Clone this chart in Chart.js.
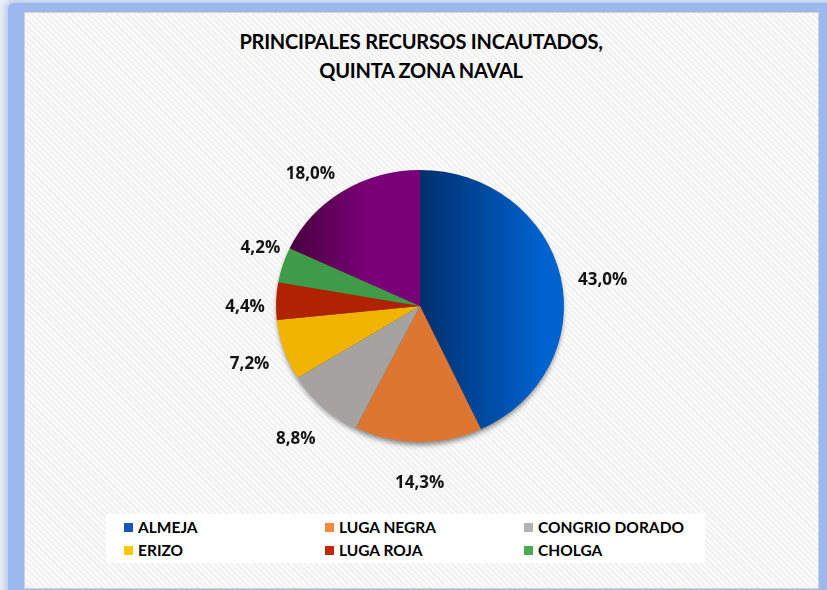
<!DOCTYPE html>
<html>
<head>
<meta charset="utf-8">
<script src="https://cdn.jsdelivr.net/npm/chart.js@4.4.1/dist/chart.umd.min.js"></script>
<style>
  html, body { margin: 0; padding: 0; }
  body { width: 827px; height: 590px; position: relative; overflow: hidden; background: #eceef2; font-family: Lato, "Open Sans", sans-serif; }
  #frame { position: absolute; left: 8px; top: 3px; width: 830px; height: 600px; background: #9bb9ec; border-radius: 6px; box-shadow: 0 0 6px 3px rgba(155, 185, 236, 0.7); }
  #panel { position: absolute; left: 24px; top: 12px; width: 793px; height: 575px; border: 1px solid #d2d2d2;
    background: repeating-linear-gradient(45deg, #fbfbfb 0 2px, #f1f1f1 2px 4px); }
  #title { position: absolute; left: 0; width: 842px; top: 27px; text-align: center; font-weight: bold; font-size: 20px; letter-spacing: -0.25px; line-height: 29px; color: #000; }
  #legend { position: absolute; left: 106px; top: 514px; width: 599px; height: 49px; background: #fff; }
  .item { position: absolute; font-weight: bold; font-size: 15.5px; color: #000; line-height: 18px; white-space: nowrap; }
  .item span { display: inline-block; width: 9px; height: 9px; margin-right: 5px; vertical-align: 1px; }
  canvas { position: absolute; left: 0; top: 0; }
</style>
</head>
<body>
<div id="frame"></div>
<div id="panel"></div>
<div id="title">PRINCIPALES RECURSOS INCAUTADOS,<br>QUINTA ZONA NAVAL</div>
<div id="legend"></div>
<canvas id="chart" width="827" height="590"></canvas>
<script>
Chart.defaults.font.family = "Lato";

const categories = ["ALMEJA", "LUGA NEGRA", "CONGRIO DORADO", "ERIZO", "LUGA ROJA", "CHOLGA", "OTROS"];
const percents = [43.0, 14.3, 8.8, 7.2, 4.4, 4.2, 18.0];
const legendCount = 6; // the last slice has no legend entry in the original

const flatColors = ["#0050b0", "#dc7630", "#a5a2a0", "#efb300", "#b02200", "#3f9b48", "#6a0068"];
const legendColors = ["#1256c0", "#f5883a", "#b3b1b1", "#ffc800", "#c4260c", "#4caa50"];

const R = 144;
const squash = 0.945;
// small hand nudges so the labels sit where Excel put them
const labelNudge = [[7, 12], [2, 3], [-3, 5], [0, 2], [5, 7], [12, -5], [-13, 15]];

// blue and purple slices get a left-to-right shading like the original
function sliceColor(c) {
  const chart = c.chart;
  const i = c.dataIndex;
  if (!chart.chartArea) return flatColors[i];
  const cx = (chart.chartArea.left + chart.chartArea.right) / 2;
  const g = chart.ctx;
  if (i === 0) {
    const grad = g.createLinearGradient(cx, 0, cx + R * 0.85, 0);
    grad.addColorStop(0, "#002f6e");
    grad.addColorStop(1, "#0062cf");
    return grad;
  }
  if (i === 6) {
    const grad = g.createLinearGradient(cx - R * 0.9, 0, cx - R * 0.35, 0);
    grad.addColorStop(0, "#48003f");
    grad.addColorStop(1, "#7a0077");
    return grad;
  }
  return flatColors[i];
}

const pieLook = {
  id: "pieLook",
  beforeDatasetsDraw(chart) {
    const ctx = chart.ctx;
    const arc = chart.getDatasetMeta(0).data[0];
    const cx = arc.x, cy = arc.y;
    ctx.save();
    ctx.translate(cx, cy);
    ctx.scale(1, squash);
    ctx.translate(-cx, -cy);
    ctx.save();
    ctx.shadowColor = "rgba(0,0,0,0.45)";
    ctx.shadowBlur = 5;
    ctx.shadowOffsetY = 4;
    ctx.beginPath();
    ctx.arc(cx, cy, R - 1, 0, Math.PI * 2);
    ctx.fillStyle = "#555";
    ctx.fill();
    ctx.restore();
  },
  afterDatasetsDraw(chart) {
    const ctx = chart.ctx;
    ctx.restore();
    const meta = chart.getDatasetMeta(0);
    ctx.save();
    ctx.font = "bold 17px 'Open Sans'";
    ctx.fillStyle = "#141414";
    ctx.textAlign = "center";
    ctx.textBaseline = "middle";
    meta.data.forEach((a, i) => {
      const mid = (a.startAngle + a.endAngle) / 2;
      const x = a.x + Math.cos(mid) * 180 + labelNudge[i][0];
      const y = a.y + Math.sin(mid) * 174 + labelNudge[i][1];
      ctx.fillText(percents[i].toFixed(1).replace(".", ",") + "%", x, y);
    });
    ctx.restore();
  }
};

function drawChart() {
  new Chart(document.getElementById("chart"), {
    type: "pie",
    data: {
      labels: categories,
      datasets: [{
        data: percents,
        backgroundColor: sliceColor,
        borderWidth: 0,
        radius: R
      }]
    },
    options: {
      responsive: false,
      animation: false,
      events: [],
      layout: { padding: { left: 13, right: 0, top: 100, bottom: 78 } },
      plugins: {
        legend: { display: false },
        title: { display: false },
        tooltip: { enabled: false }
      }
    },
    plugins: [pieLook]
  });
}

document.fonts.load("bold 17px 'Open Sans'").then(drawChart, drawChart);

// legend in three columns, like the original
const legend = document.getElementById("legend");
const colX = [18, 219, 418];
for (let i = 0; i < legendCount; i++) {
  const el = document.createElement("div");
  el.className = "item";
  el.style.left = colX[i % 3] + "px";
  el.style.top = (i < 3 ? 4 : 27) + "px";
  el.innerHTML = '<span style="background:' + legendColors[i] + '"></span>' + categories[i];
  legend.appendChild(el);
}
</script>
</body>
</html>
